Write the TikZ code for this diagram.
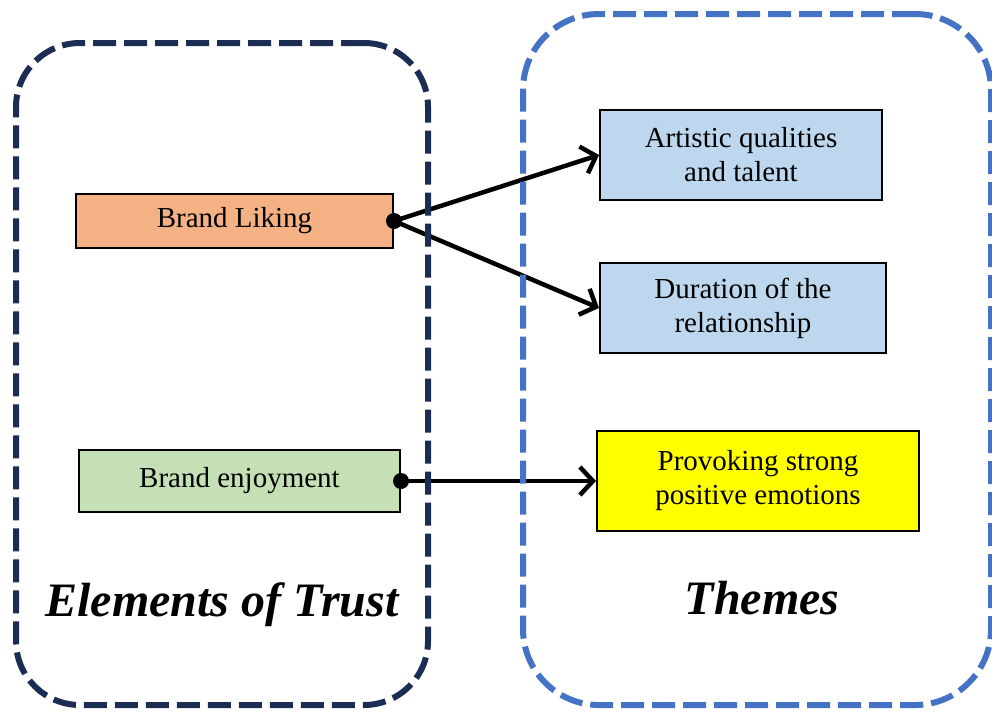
\documentclass[tikz,border=0pt]{standalone}
\usepackage{fontspec}
\setmainfont{Liberation Serif}
\usetikzlibrary{arrows.meta}
\definecolor{trustnavy}{HTML}{1B2D52}
\definecolor{themeblue}{HTML}{4472C4}
\definecolor{likefill}{HTML}{F4B183}
\definecolor{joyfill}{HTML}{C5E0B4}
\definecolor{themefill}{HTML}{BDD7EE}
\definecolor{emofill}{HTML}{FFFF00}
\begin{document}
\begin{tikzpicture}[x=1pt,y=-1pt,
  group/.style={line width=6pt, dash pattern=on 23pt off 8pt, rectangle, inner sep=0pt},
  item/.style={draw=black, line width=2pt, rectangle, align=center, inner sep=0pt,
    font=\fontsize{29}{34}\selectfont},
  link/.style={line width=4.5pt, -{Straight Barb[length=13pt,width=28pt,line width=4.5pt]}},
  dot/.style={circle, fill=black, inner sep=0pt, minimum size=16pt},
  heading/.style={font=\fontsize{48}{52}\selectfont\bfseries\itshape, inner sep=0pt},
]
\useasboundingbox (0,0) rectangle (992,713);

% elements of trust
\node[item, fill=likefill, minimum width=317, minimum height=54] (like) at (234.5,221) {Brand Liking};
\node[item, fill=joyfill, minimum width=321, minimum height=62] (joy) at (239.5,481) {Brand enjoyment};

% themes
\node[item, fill=themefill, minimum width=282, minimum height=90] (art) at (741,155) {Artistic qualities\\and talent};
\node[item, fill=themefill, minimum width=286, minimum height=90] (dur) at (743,308) {Duration of the\\relationship};
\node[item, fill=emofill, minimum width=322, minimum height=100] (emo) at (758,481) {Provoking strong\\positive emotions};

% links
\draw[link] (like.east) -- (art.west);
\draw[link] (like.east) -- (dur.west);
\draw[link] (joy.east) -- (emo.west);
\node[dot] (likedot) at (like.east) {};
\node[dot] (joydot) at (joy.east) {};

% dashed groups
\node[group, draw=trustnavy, rounded corners=64pt, minimum width=412, minimum height=662] (trust) at (222,374) {};
\node[group, draw=themeblue, rounded corners=76pt, minimum width=468, minimum height=691] (themes) at (757,359.5) {};

\node[heading] (trustlabel) at (222,605) {Elements of Trust};
\node[heading] (themeslabel) at (762,598) {Themes};
\end{tikzpicture}
\end{document}
